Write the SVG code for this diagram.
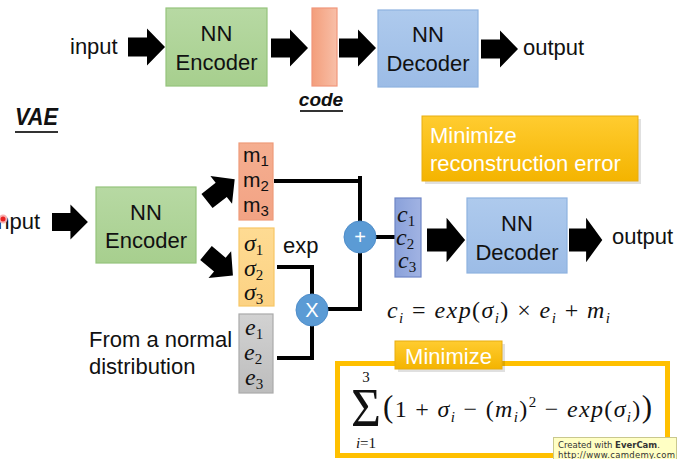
<svg xmlns="http://www.w3.org/2000/svg" width="677" height="459" viewBox="0 0 677 459">
<defs>
<linearGradient id="gGreen" x1="0" y1="0" x2="0" y2="1"><stop offset="0" stop-color="#b7d9a3"/><stop offset="1" stop-color="#a7cf8e"/></linearGradient>
<linearGradient id="gCode" x1="0" y1="0" x2="1" y2="0"><stop offset="0" stop-color="#f39e7b"/><stop offset="1" stop-color="#f8bfa8"/></linearGradient>
<linearGradient id="gBlue" x1="0" y1="0" x2="0" y2="1"><stop offset="0" stop-color="#aecaed"/><stop offset="1" stop-color="#9cbce6"/></linearGradient>
<linearGradient id="gM" x1="0" y1="0" x2="0" y2="1"><stop offset="0" stop-color="#f5ae90"/><stop offset="1" stop-color="#f2a384"/></linearGradient>
<linearGradient id="gSig" x1="0" y1="0" x2="0" y2="1"><stop offset="0" stop-color="#fedb93"/><stop offset="1" stop-color="#fcd283"/></linearGradient>
<linearGradient id="gE" x1="0" y1="0" x2="0" y2="1"><stop offset="0" stop-color="#d2d2d2"/><stop offset="1" stop-color="#bdbdbd"/></linearGradient>
<linearGradient id="gC" x1="0" y1="0" x2="1" y2="0"><stop offset="0" stop-color="#8aa1da"/><stop offset="1" stop-color="#a1b3e3"/></linearGradient>
<linearGradient id="gOr" x1="0" y1="0" x2="0" y2="1"><stop offset="0" stop-color="#ffcc30"/><stop offset="1" stop-color="#f4b400"/></linearGradient>
<path id="arr" d="M0,-9.5 H19 V-18.5 L37,0 L19,18.5 V9.5 H0 Z"/>
<style>
.lbl{font-family:"Liberation Sans",Arial,sans-serif;font-size:22px;fill:#111;}
.box{stroke-width:1.2;}
.wire{fill:none;stroke:#000;stroke-width:4;stroke-linejoin:miter;}
.math{font-family:"Liberation Serif","DejaVu Serif",serif;font-style:italic;font-size:24px;fill:#111;}
.up{font-style:normal;}
.sub{font-size:15px;}
.wt{font-family:"Liberation Sans",Arial,sans-serif;font-size:22px;fill:#fff;}
.circ{fill:#5b9bd5;stroke:#4f8dc9;stroke-width:1;}
.ct{font-family:"Liberation Sans",Arial,sans-serif;font-size:20px;fill:#fff;text-anchor:middle;}
</style>
</defs>
<rect width="677" height="459" fill="#fff"/>

<!-- top row -->
<text class="lbl" x="70" y="54">input</text>
<g id="top-encoder"><rect class="box" x="166" y="8" width="101" height="78" fill="url(#gGreen)" stroke="#95c47c"/><text class="lbl" x="216.5" y="41" text-anchor="middle">NN</text><text class="lbl" x="216.5" y="70" text-anchor="middle">Encoder</text></g>
<g id="top-code"><rect class="box" x="312" y="8" width="25" height="78" fill="url(#gCode)" stroke="#f1967a"/>
<text x="321" y="106" text-anchor="middle" font-family="Liberation Sans,Arial,sans-serif" font-size="19" font-weight="bold" font-style="italic" fill="#111">code</text><rect x="300" y="110" width="43" height="2" fill="#333"/></g>
<g id="top-decoder"><rect class="box" x="378" y="10" width="100" height="77" fill="url(#gBlue)" stroke="#8eb2e0"/><text class="lbl" x="428" y="42" text-anchor="middle">NN</text><text class="lbl" x="428" y="71" text-anchor="middle">Decoder</text></g>
<text class="lbl" x="523" y="55">output</text>

<!-- VAE title -->
<text x="15" y="125" font-family="Liberation Sans,Arial,sans-serif" font-size="23" font-weight="bold" font-style="italic" fill="#111" textLength="43" lengthAdjust="spacingAndGlyphs">VAE</text>
<rect x="15" y="131" width="43" height="2" fill="#333"/>

<!-- bottom input -->
<text class="lbl" x="40" y="229" text-anchor="end">input</text>
<circle cx="3" cy="219" r="4.5" fill="#f7b0b0"/>
<circle cx="3" cy="219" r="2.5" fill="#e82020"/>

<g id="vae-encoder"><rect class="box" x="96" y="187" width="100" height="76" fill="url(#gGreen)" stroke="#95c47c"/><text class="lbl" x="146" y="220" text-anchor="middle">NN</text><text class="lbl" x="146" y="248" text-anchor="middle">Encoder</text></g>

<g id="m-box"><rect class="box" x="239" y="143" width="34" height="77" fill="url(#gM)" stroke="#ee9b7a"/>
<text font-family="Liberation Sans,Arial,sans-serif" font-size="21" fill="#111"><tspan x="243" y="162">m</tspan><tspan class="sub" dy="4">1</tspan><tspan x="243" y="187">m</tspan><tspan class="sub" dy="4">2</tspan><tspan x="243" y="212">m</tspan><tspan class="sub" dy="4">3</tspan></text></g>

<g id="sigma-box"><rect class="box" x="239" y="228" width="35" height="78" fill="url(#gSig)" stroke="#f7c766"/>
<text class="math"><tspan x="244" y="251">σ</tspan><tspan class="sub up" dy="4">1</tspan><tspan x="244" y="276">σ</tspan><tspan class="sub up" dy="4">2</tspan><tspan x="244" y="300">σ</tspan><tspan class="sub up" dy="4">3</tspan></text></g>
<text class="lbl" x="283" y="253" font-size="20">exp</text>

<g id="e-box"><rect class="box" x="239" y="314" width="34" height="79" fill="url(#gE)" stroke="#aaaaaa"/>
<text class="math"><tspan x="245" y="335">e</tspan><tspan class="sub up" dy="4">1</tspan><tspan x="244" y="360">e</tspan><tspan class="sub up" dy="4">2</tspan><tspan x="245" y="385">e</tspan><tspan class="sub up" dy="4">3</tspan></text></g>
<text class="lbl" font-size="21"><tspan x="89" y="347">From a normal</tspan><tspan x="89" y="374">distribution</tspan></text>

<!-- connectors -->
<g id="connectors">
<use href="#arr" transform="translate(128,47)"/>
<use href="#arr" transform="translate(271,48)"/>
<use href="#arr" transform="translate(339,48)"/>
<use href="#arr" transform="translate(481,49)"/>
<use href="#arr" transform="translate(52,222) scale(0.97,0.95)"/>
<use href="#arr" transform="translate(207,201) rotate(-38) scale(0.95)"/>
<use href="#arr" transform="translate(206,253) rotate(40) scale(0.95)"/>
<use href="#arr" transform="translate(427,240) scale(1.03,1.2)"/>
<use href="#arr" transform="translate(569,240) scale(0.9,1.2)"/>
<path class="wire" d="M274,181 H360"/>
<path class="wire" d="M360,176 V222"/>
<path class="wire" d="M375,237 H395"/>
<path class="wire" d="M277,267 H312 V294"/>
<path class="wire" d="M328,309 H360 V253"/>
<path class="wire" d="M277,358 H312 V326"/>
</g>

<g id="plus"><circle class="circ" cx="360" cy="237" r="16"/><text class="ct" x="360" y="244">+</text></g>
<g id="times"><circle class="circ" cx="312" cy="310" r="16"/><text class="ct" x="312" y="317">X</text></g>

<g id="c-box"><rect class="box" x="395" y="198" width="26" height="79" fill="url(#gC)" stroke="#6f86c6"/>
<text class="math"><tspan x="397" y="222">c</tspan><tspan class="sub up" dy="4">1</tspan><tspan x="396" y="245">c</tspan><tspan class="sub up" dy="4">2</tspan><tspan x="398" y="268">c</tspan><tspan class="sub up" dy="4">3</tspan></text></g>

<g id="vae-decoder"><rect class="box" x="467" y="198" width="100" height="75" fill="url(#gBlue)" stroke="#8eb2e0"/><text class="lbl" x="517" y="231" text-anchor="middle">NN</text><text class="lbl" x="517" y="260" text-anchor="middle">Decoder</text></g>
<text class="lbl" x="612" y="244">output</text>

<g id="recon-box"><rect x="425" y="119" width="216" height="65" fill="#000" opacity="0.12"/><rect x="422" y="116" width="216" height="65" fill="url(#gOr)" stroke="#e8ad10" stroke-width="1"/>
<text class="wt"><tspan x="430" y="143">Minimize</tspan><tspan x="430" y="171">reconstruction error</tspan></text></g>

<!-- formula c_i -->
<text class="math" x="387" y="318" textLength="223" lengthAdjust="spacing">c<tspan class="sub" dy="5">i</tspan><tspan class="up" dy="-5"> = </tspan>exp<tspan class="up">(</tspan>σ<tspan class="sub" dy="5">i</tspan><tspan class="up" dy="-5">) × </tspan>e<tspan class="sub" dy="5">i</tspan><tspan class="up" dy="-5"> + </tspan>m<tspan class="sub" dy="5">i</tspan></text>

<!-- KL box -->
<g id="kl-box">
<rect x="337.5" y="363.5" width="330" height="92" fill="#fff" stroke="#ffc000" stroke-width="5"/>
<text x="351" y="426" font-family="Liberation Serif,DejaVu Serif,serif" font-size="54" fill="#111" textLength="30" lengthAdjust="spacingAndGlyphs">Σ</text>
<text x="366" y="382" font-family="Liberation Serif,DejaVu Serif,serif" font-size="15" fill="#111" text-anchor="middle">3</text>
<text x="366" y="448" font-family="Liberation Serif,DejaVu Serif,serif" font-size="15" fill="#111" text-anchor="middle"><tspan font-style="italic">i</tspan>=1</text>
<text class="math" x="383" y="417" font-size="25" textLength="269" lengthAdjust="spacing"><tspan class="up" font-size="31">(</tspan><tspan class="up">1 + </tspan>σ<tspan class="sub" dy="5">i</tspan><tspan class="up" dy="-5"> − (</tspan>m<tspan class="sub" dy="5">i</tspan><tspan class="up" dy="-5">)</tspan><tspan class="sub up" dy="-10">2</tspan><tspan class="up" dy="10"> − </tspan>exp<tspan class="up">(</tspan>σ<tspan class="sub" dy="5">i</tspan><tspan class="up" dy="-5">)</tspan><tspan class="up" font-size="31">)</tspan></text>
</g>
<g id="kl-label"><rect x="398" y="344" width="107" height="28" fill="#000" opacity="0.12"/><rect x="395" y="341" width="107" height="28" fill="url(#gOr)" stroke="#e8ad10" stroke-width="1"/>
<text class="wt" x="448.5" y="364" text-anchor="middle">Minimize</text></g>

<g id="watermark"><rect x="553.5" y="437.5" width="123" height="22" fill="#ffffc4" stroke="#c9c88e" stroke-width="1"/>
<text font-family="DejaVu Sans,Verdana,sans-serif" font-size="8.5" fill="#333"><tspan x="558" y="448">Created with <tspan font-weight="bold">EverCam</tspan>.</tspan><tspan x="558" y="458" textLength="117">http://www.camdemy.com</tspan></text></g>
</svg>
